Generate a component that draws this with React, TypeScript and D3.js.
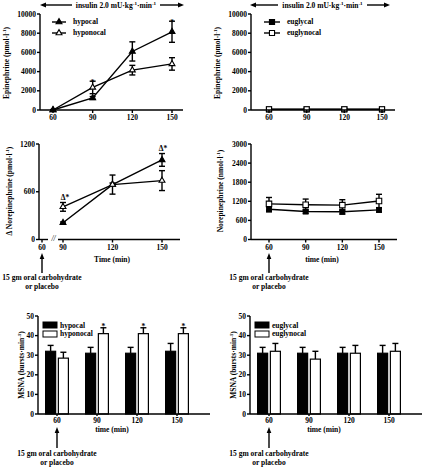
import React from 'react';
import * as d3 from 'd3';

// ---------------- DATA ----------------
const times = [60, 90, 120, 150];
const epiTicks = [0, 2000, 4000, 6000, 8000, 10000];
const hypocalEpi = [0, 1250, 6100, 8150];
const hypocalEpiErr = [40, 150, 1000, 1100];
const hyponocalEpi = [0, 2350, 4150, 4800];
const hyponocalEpiErr = [40, 650, 500, 650];
const euglycalEpi = [60, 60, 60, 60];
const euglycalEpiErr = [30, 30, 30, 30];
const euglynocalEpi = [80, 80, 80, 80];
const euglynocalEpiErr = [30, 30, 30, 30];

const neDeltaTimes = [90, 120, 150];
const neDeltaTicks = [0, 600, 1200];
const hypocalNE = [210, 690, 1000];
const hypocalNEErr = [10, 20, 80];
const hyponocalNE = [410, 690, 740];
const hyponocalNEErr = [55, 120, 125];

const neTicks = [0, 600, 1200, 1800, 2400, 3000];
const euglycalNE = [950, 880, 870, 930];
const euglycalNEErr = [80, 60, 70, 70];
const euglynocalNE = [1120, 1090, 1080, 1210];
const euglynocalNEErr = [200, 180, 170, 210];

const msnaTicks = [0, 10, 20, 30, 40, 50];
const hypocalMSNA = [32, 31, 31, 32];
const hypocalMSNAErr = [3, 3, 3, 4];
const hyponocalMSNA = [28.5, 41, 41, 41];
const hyponocalMSNAErr = [3, 3, 3, 3];
const euglycalMSNA = [31, 31, 31, 31];
const euglycalMSNAErr = [3, 3, 3, 4];
const euglynocalMSNA = [32, 28, 31, 32];
const euglynocalMSNAErr = [4, 4, 4, 4];

const hypoNames = ['hypocal', 'hyponocal'];
const euNames = ['euglycal', 'euglynocal'];

// ---------------- STYLE ----------------
const FONT = "'Liberation Serif', 'Times New Roman', serif";
const FS = 7.5;
const SW = 1.4;

type Sc = d3.ScaleLinear<number, number>;
type Part = [string, boolean];

function Rich({ parts }: { parts: Part[] }) {
  let prevSup = false;
  return (
    <>
      {parts.map(([t, sup], i) => {
        let dy = 0;
        if (sup && !prevSup) dy = -3;
        else if (!sup && prevSup) dy = 3;
        prevSup = sup;
        return (
          <tspan key={i} dy={dy} fontSize={sup ? 5 : undefined}>{t}</tspan>
        );
      })}
    </>
  );
}

function YAxis({ y, x, ticks }: { y: Sc; x: number; ticks: number[] }) {
  const [d0, d1] = y.domain();
  return (
    <g>
      <line x1={x} x2={x} y1={y(d0)} y2={y(d1)} stroke="#000" strokeWidth={SW} />
      {ticks.map((t) => (
        <g key={t}>
          <line x1={x - 3} x2={x} y1={y(t)} y2={y(t)} stroke="#000" strokeWidth={SW} />
          <text x={x - 4} y={y(t)} dy="0.34em" textAnchor="end">{t}</text>
        </g>
      ))}
    </g>
  );
}

function XAxis({ x, yPos, x0, x1, ticks }: { x: Sc; yPos: number; x0: number; x1: number; ticks: number[] }) {
  return (
    <g>
      <line x1={x0} x2={x1} y1={yPos} y2={yPos} stroke="#000" strokeWidth={SW} />
      {ticks.map((t) => (
        <g key={t}>
          <line x1={x(t)} x2={x(t)} y1={yPos} y2={yPos + 3} stroke="#000" strokeWidth={SW} />
          <text x={x(t)} y={yPos + 10} textAnchor="middle">{t}</text>
        </g>
      ))}
    </g>
  );
}

function Series({ x, y, ts, vals, errs, filled, sym, size }: {
  x: Sc; y: Sc; ts: number[]; vals: number[]; errs: number[]; filled: boolean; sym: d3.SymbolType; size: number;
}) {
  const line = d3.line<number>().x((_, i) => x(ts[i])).y((v) => y(v));
  const symPath = d3.symbol().type(sym).size(size)() as string;
  return (
    <g>
      <path d={line(vals) as string} fill="none" stroke="#000" strokeWidth={SW} />
      {vals.map((v, i) => {
        const cx = x(ts[i]);
        const top = y(v + errs[i]);
        const bot = y(v - errs[i]);
        return (
          <g key={'e' + i}>
            <line x1={cx} x2={cx} y1={top} y2={bot} stroke="#000" strokeWidth={SW} />
            <line x1={cx - 3} x2={cx + 3} y1={top} y2={top} stroke="#000" strokeWidth={SW} />
            <line x1={cx - 3} x2={cx + 3} y1={bot} y2={bot} stroke="#000" strokeWidth={SW} />
          </g>
        );
      })}
      {vals.map((v, i) => (
        <path key={'m' + i} d={symPath} transform={`translate(${x(ts[i])},${y(v)})`}
          fill={filled ? '#000' : '#fff'} stroke="#000" strokeWidth={1.1} />
      ))}
    </g>
  );
}

function LegendLine({ x0, x1, yPos, label, filled, sym, size }: {
  x0: number; x1: number; yPos: number; label: string; filled: boolean; sym: d3.SymbolType; size: number;
}) {
  const symPath = d3.symbol().type(sym).size(size)() as string;
  return (
    <g>
      <line x1={x0} x2={x1} y1={yPos} y2={yPos} stroke="#000" strokeWidth={SW} />
      <path d={symPath} transform={`translate(${(x0 + x1) / 2},${yPos})`} fill={filled ? '#000' : '#fff'} stroke="#000" strokeWidth={1.1} />
      <text x={x1 + 7} y={yPos} dy="0.3em">{label}</text>
    </g>
  );
}

function InsulinArrow({ xa, xb, ta, tb, yPos }: { xa: number; xb: number; ta: number; tb: number; yPos: number }) {
  return (
    <g>
      <line x1={xa + 4} x2={ta} y1={yPos} y2={yPos} stroke="#000" strokeWidth={SW} />
      <path d={`M${xa},${yPos} L${xa + 6},${yPos - 2.5} L${xa + 6},${yPos + 2.5} Z`} fill="#000" />
      <line x1={tb} x2={xb - 4} y1={yPos} y2={yPos} stroke="#000" strokeWidth={SW} />
      <path d={`M${xb},${yPos} L${xb - 6},${yPos - 2.5} L${xb - 6},${yPos + 2.5} Z`} fill="#000" />
      <text x={(ta + tb) / 2} y={yPos + 2.7} textAnchor="middle">
        <Rich parts={[['insulin 2.0 mU·kg', false], ['-1', true], ['·min', false], ['-1', true]]} />
      </text>
    </g>
  );
}

function CarbArrow({ xPos, yTip, yBase, tY }: { xPos: number; yTip: number; yBase: number; tY: number }) {
  return (
    <g>
      <line x1={xPos} x2={xPos} y1={yTip + 4} y2={yBase} stroke="#000" strokeWidth={SW} />
      <path d={`M${xPos},${yTip} L${xPos - 2.3},${yTip + 6} L${xPos + 2.3},${yTip + 6} Z`} fill="#000" />
      <text x={xPos} y={tY} textAnchor="middle">15 gm oral carbohydrate</text>
      <text x={xPos} y={tY + 9} textAnchor="middle">or placebo</text>
    </g>
  );
}

function YLabel({ x, y, parts }: { x: number; y: number; parts: Part[] }) {
  return (
    <text transform={`translate(${x},${y}) rotate(-90)`} textAnchor="middle"><Rich parts={parts} /></text>
  );
}

function BarPanel({ ox, a, aErr, b, bErr, names, stars }: {
  ox: number; a: number[]; aErr: number[]; b: number[]; bErr: number[]; names: string[]; stars: boolean[];
}) {
  const y = d3.scaleLinear().domain([0, 50]).range([414, 316]);
  const x0 = d3.scaleBand<number>().domain(times).range([ox + 37, ox + 197]).paddingInner(0.4).paddingOuter(0.2);
  const x1 = d3.scaleBand<string>().domain(['a', 'b']).range([0, x0.bandwidth()]).paddingInner(0.12);
  const axisX = ox + 38;
  const groups = [
    { key: 'a', vals: a, errs: aErr, fill: '#000' },
    { key: 'b', vals: b, errs: bErr, fill: '#fff' },
  ];
  return (
    <g>
      {groups.map((g) =>
        times.map((t, i) => {
          const bx = (x0(t) as number) + (x1(g.key) as number);
          const w = x1.bandwidth();
          const top = y(g.vals[i]);
          const et = y(g.vals[i] + g.errs[i]);
          return (
            <g key={g.key + t}>
              <line x1={bx + w / 2} x2={bx + w / 2} y1={top} y2={et} stroke="#000" strokeWidth={SW} />
              <line x1={bx + w / 2 - 3} x2={bx + w / 2 + 3} y1={et} y2={et} stroke="#000" strokeWidth={SW} />
              <rect x={bx + 0.6} y={top} width={w - 1.2} height={y(0) - top} fill={g.fill} stroke="#000" strokeWidth={1.2} />
              {g.key === 'b' && stars[i] && (
                <text x={bx + w / 2} y={et + 1} textAnchor="middle">*</text>
              )}
            </g>
          );
        })
      )}
      <YAxis y={y} x={axisX} ticks={msnaTicks} />
      <line x1={axisX} x2={ox + 210} y1={y(0)} y2={y(0)} stroke="#000" strokeWidth={SW} />
      {times.map((t) => {
        const cx = (x0(t) as number) + x0.bandwidth() / 2;
        return (
          <g key={'xt' + t}>
            <line x1={cx} x2={cx} y1={y(0)} y2={y(0) + 2} stroke="#000" strokeWidth={SW} />
            <text x={cx} y={y(0) + 8.5} textAnchor="middle">{t}</text>
          </g>
        );
      })}
      <text x={ox + 112} y={432} textAnchor="middle">time (min)</text>
      <YLabel x={ox + 24} y={365} parts={[['MSNA (bursts·min', false], ['-1', true], [')', false]]} />
      <rect x={ox + 43} y={322} width={14} height={6} fill="#000" stroke="#000" strokeWidth={1} />
      <text x={ox + 60} y={327.5}>{names[0]}</text>
      <rect x={ox + 43} y={331} width={14} height={6} fill="#fff" stroke="#000" strokeWidth={1} />
      <text x={ox + 60} y={336}>{names[1]}</text>
      <CarbArrow xPos={(x0(60) as number) + x0.bandwidth() / 2} yTip={427} yBase={448} tY={456} />
    </g>
  );
}

export default function App() {
  const yEpi = d3.scaleLinear().domain([0, 10000]).range([110, 14]);
  const xTL = d3.scaleLinear().domain([60, 150]).range([53, 172]);
  const xTR = d3.scaleLinear().domain([60, 150]).range([269, 382]);
  const yNEd = d3.scaleLinear().domain([0, 1200]).range([239.5, 144]);
  const xML = d3.scaleLinear().domain([90, 150]).range([63, 162]);
  const yNE = d3.scaleLinear().domain([0, 3000]).range([239.5, 144]);
  const xMR = d3.scaleLinear().domain([60, 150]).range([269, 379]);

  const tri = d3.symbolTriangle;
  const sq = d3.symbolSquare;
  const x60ML = xML(90) - 21;
  const TRI = 15;

  return (
    <svg width={423} height={467} style={{ position: 'absolute', left: 0, top: 0, background: '#fff' }}
      fontFamily={FONT} fontWeight="bold" fontSize={FS}>
      <rect width={423} height={467} fill="#fff" />

      {/* ---------- Top-left ---------- */}
      <InsulinArrow xa={40} xb={184} ta={72} tb={160} yPos={5} />
      <Series x={xTL} y={yEpi} ts={times} vals={hyponocalEpi} errs={hyponocalEpiErr} filled={false} sym={tri} size={TRI} />
      <Series x={xTL} y={yEpi} ts={times} vals={hypocalEpi} errs={hypocalEpiErr} filled={true} sym={tri} size={TRI} />
      <text x={xTL(90)} y={yEpi(hyponocalEpi[1] + hyponocalEpiErr[1]) + 4} textAnchor="middle">*</text>
      <text x={xTL(150)} y={yEpi(hypocalEpi[3] + hypocalEpiErr[3]) + 4} textAnchor="middle">*</text>
      <YAxis y={yEpi} x={40} ticks={epiTicks} />
      <XAxis x={xTL} yPos={110} x0={40} x1={183} ticks={times} />
      <LegendLine x0={52} x1={66} yPos={22} label={hypoNames[0]} filled={true} sym={tri} size={TRI} />
      <LegendLine x0={52} x1={66} yPos={33} label={hypoNames[1]} filled={false} sym={tri} size={TRI} />
      <YLabel x={9} y={63} parts={[['Epinephrine (pmol·l', false], ['-1', true], [')', false]]} />

      {/* ---------- Top-right ---------- */}
      <InsulinArrow xa={250} xb={390} ta={278} tb={367} yPos={5} />
      <Series x={xTR} y={yEpi} ts={times} vals={euglycalEpi} errs={euglycalEpiErr} filled={true} sym={sq} size={26} />
      <Series x={xTR} y={yEpi} ts={times} vals={euglynocalEpi} errs={euglynocalEpiErr} filled={false} sym={sq} size={26} />
      <YAxis y={yEpi} x={251} ticks={epiTicks} />
      <XAxis x={xTR} yPos={110} x0={251} x1={395} ticks={times} />
      <LegendLine x0={264} x1={280} yPos={22} label={euNames[0]} filled={true} sym={sq} size={26} />
      <LegendLine x0={264} x1={280} yPos={33} label={euNames[1]} filled={false} sym={sq} size={26} />
      <YLabel x={220} y={63} parts={[['Epinephrine (pmol·l', false], ['-1', true], [')', false]]} />

      {/* ---------- Middle-left ---------- */}
      <Series x={xML} y={yNEd} ts={neDeltaTimes} vals={hypocalNE} errs={hypocalNEErr} filled={true} sym={tri} size={TRI} />
      <Series x={xML} y={yNEd} ts={neDeltaTimes} vals={hyponocalNE} errs={hyponocalNEErr} filled={false} sym={tri} size={TRI} />
      <text x={xML(90) + 2} y={yNEd(hyponocalNE[0] + hyponocalNEErr[0]) - 2.5} textAnchor="middle">Δ*</text>
      <text x={xML(150) + 1} y={yNEd(hypocalNE[2] + hypocalNEErr[2]) - 3} textAnchor="middle">Δ*</text>
      <YAxis y={yNEd} x={39} ticks={neDeltaTicks} />
      <line x1={39} x2={48} y1={yNEd(0)} y2={yNEd(0)} stroke="#000" strokeWidth={SW} />
      <line x1={x60ML} x2={x60ML} y1={yNEd(0)} y2={yNEd(0) + 3} stroke="#000" strokeWidth={SW} />
      <text x={x60ML} y={yNEd(0) + 10} textAnchor="middle">60</text>
      <text x={53.5} y={yNEd(0) + 1} textAnchor="middle" fontStyle="italic" fontWeight="normal">//</text>
      <XAxis x={xML} yPos={yNEd(0)} x0={58} x1={180} ticks={neDeltaTimes} />
      <text x={112} y={262} textAnchor="middle">Time (min)</text>
      <YLabel x={12} y={191} parts={[['Δ Norepinephrine (pmol·l', false], ['-1', true], [')', false]]} />
      <CarbArrow xPos={x60ML} yTip={253} yBase={273} tY={280} />

      {/* ---------- Middle-right ---------- */}
      <Series x={xMR} y={yNE} ts={times} vals={euglynocalNE} errs={euglynocalNEErr} filled={false} sym={sq} size={30} />
      <Series x={xMR} y={yNE} ts={times} vals={euglycalNE} errs={euglycalNEErr} filled={true} sym={sq} size={22} />
      <YAxis y={yNE} x={251} ticks={neTicks} />
      <XAxis x={xMR} yPos={yNE(0)} x0={251} x1={397} ticks={times} />
      <text x={322} y={262} textAnchor="middle">time (min)</text>
      <YLabel x={223} y={191} parts={[['Norepinephrine (nmol·l', false], ['-1', true], [')', false]]} />
      <CarbArrow xPos={xMR(60)} yTip={253} yBase={273} tY={280} />

      {/* ---------- Bottom ---------- */}
      <BarPanel ox={0} a={hypocalMSNA} aErr={hypocalMSNAErr} b={hyponocalMSNA} bErr={hyponocalMSNAErr}
        names={hypoNames} stars={[false, true, true, true]} />
      <BarPanel ox={212} a={euglycalMSNA} aErr={euglycalMSNAErr} b={euglynocalMSNA} bErr={euglynocalMSNAErr}
        names={euNames} stars={[false, false, false, false]} />
    </svg>
  );
}
